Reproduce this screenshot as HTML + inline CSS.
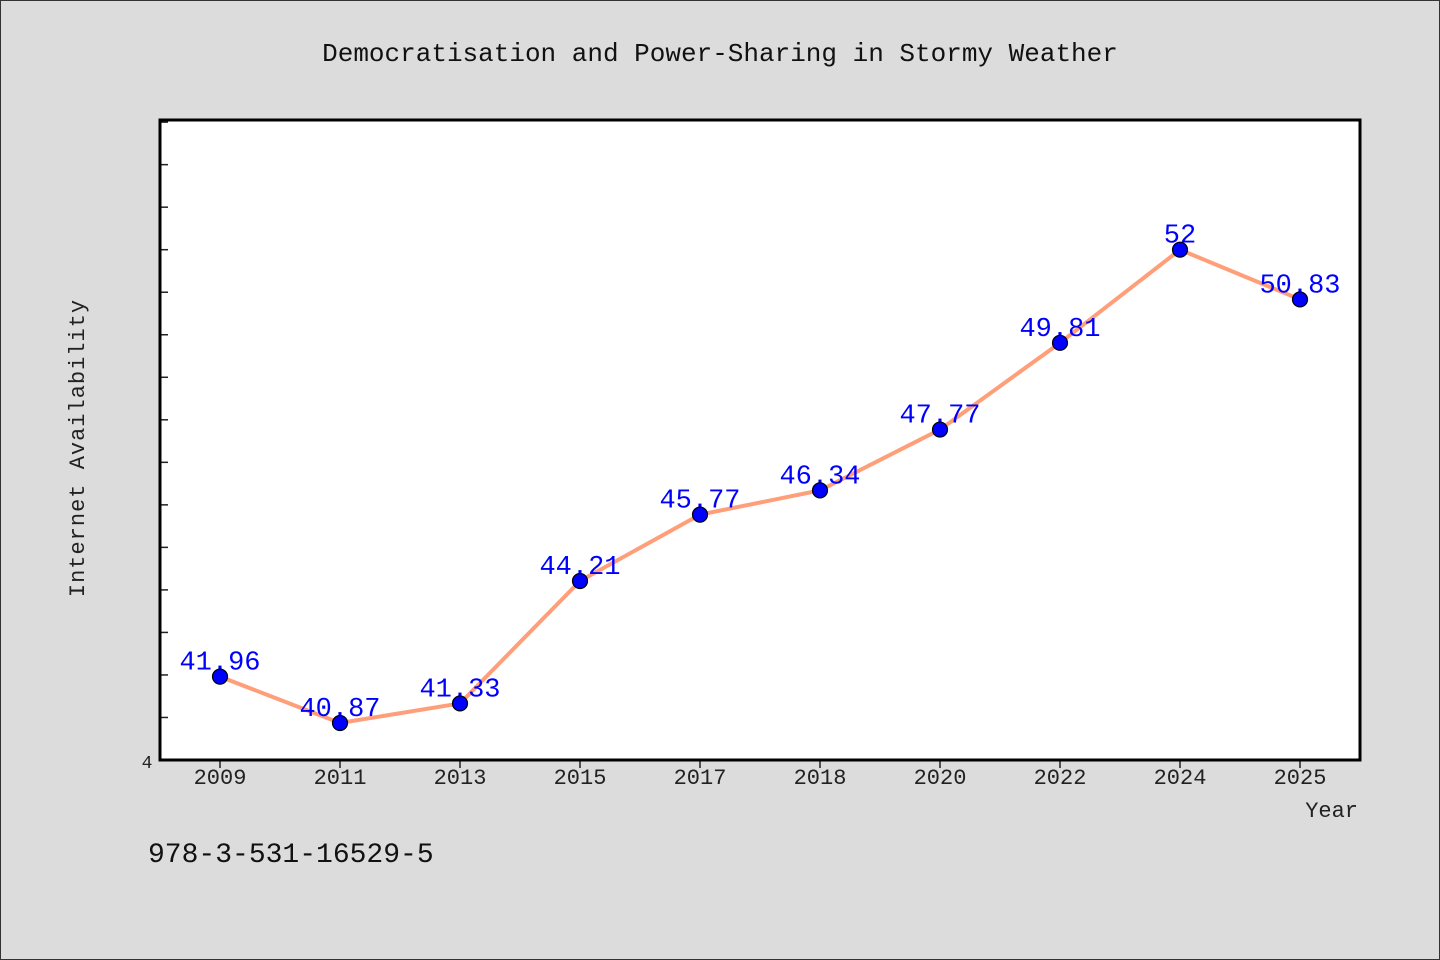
<!DOCTYPE html>
<html><head><meta charset="utf-8"><style>
html,body{margin:0;padding:0;background:#dcdcdc;}
svg{display:block;}
text{font-family:"Liberation Mono","DejaVu Sans Mono",monospace;}
</style></head><body>
<svg width="1440" height="960">
<rect x="0.5" y="0.5" width="1439" height="959" fill="#dcdcdc" stroke="#333"/>
<text x="720" y="61" text-anchor="middle" font-size="26" fill="#111">Democratisation and Power-Sharing in Stormy Weather</text>
<rect x="160" y="120" width="1200" height="640" fill="#fff"/>
<g id="ticks"></g>
<g id="series"></g>
<rect x="160" y="120" width="1200" height="640" fill="none" stroke="#000" stroke-width="3"/>
<text x="147" y="768" text-anchor="middle" font-size="18" fill="#222" font-family="Liberation Sans, sans-serif">4</text>
<text transform="translate(84,448) rotate(-90)" text-anchor="middle" font-size="22" fill="#222" letter-spacing="1">Internet Availability</text>
<text x="1358" y="817" text-anchor="end" font-size="22" fill="#222">Year</text>
<text x="148" y="862" font-size="28" fill="#111" font-family="Liberation Sans, sans-serif">978-3-531-16529-5</text>
</svg>
<script>
const categories=["2009","2011","2013","2015","2017","2018","2020","2022","2024","2025"];
const values=[41.96,40.87,41.33,44.21,45.77,46.34,47.77,49.81,52,50.83];
const labels=["41.96","40.87","41.33","44.21","45.77","46.34","47.77","49.81","52","50.83"];
const yMin=40,yMax=55.05;
const L=160,R=1360,T=120,B=760;
const NS="http://www.w3.org/2000/svg";
const band=(R-L)/categories.length;
const xs=i=>L+band*(i+0.5);
const ys=v=>B-(v-yMin)/(yMax-yMin)*(B-T);
const tg=document.getElementById('ticks'),sg=document.getElementById('series');
function mk(tag,attrs,parent){const e=document.createElementNS(NS,tag);for(const k in attrs)e.setAttribute(k,attrs[k]);parent.appendChild(e);return e;}
for(let v=yMin+1;v<yMax;v++){
 const t=mk('line',{x1:L,x2:L+8,y1:ys(v),y2:ys(v),stroke:'#222','stroke-width':1.5},tg);
 
 
}
categories.forEach((c,i)=>{
 const t=mk('line',{x1:xs(i),x2:xs(i),y1:B,y2:B+8,stroke:'#222','stroke-width':1.5},tg);
 
 
 const l=mk('text',{x:xs(i),y:B+24,'text-anchor':'middle','font-size':22,fill:'#222','font-family':'Liberation Sans, sans-serif'},tg);
 l.textContent=c;
 
 
});
const line=mk('polyline',{points:values.map((v,i)=>xs(i)+','+ys(v)).join(' '),fill:'none',stroke:'#ff9f7a','stroke-width':4,'stroke-linejoin':'round'},sg);


values.forEach((v,i)=>{
 const t=mk('text',{x:xs(i),y:ys(v)-7,'text-anchor':'middle','font-size':27,fill:'#0000ff','font-family':'Liberation Sans, sans-serif'},sg);
 t.textContent=labels[i];
 
 
});
values.forEach((v,i)=>{
 const c=mk('circle',{cx:xs(i),cy:ys(v),r:7.5,fill:'#0000ff',stroke:'#000','stroke-width':1.2},sg);
 
 
});
</script>
</body></html>
